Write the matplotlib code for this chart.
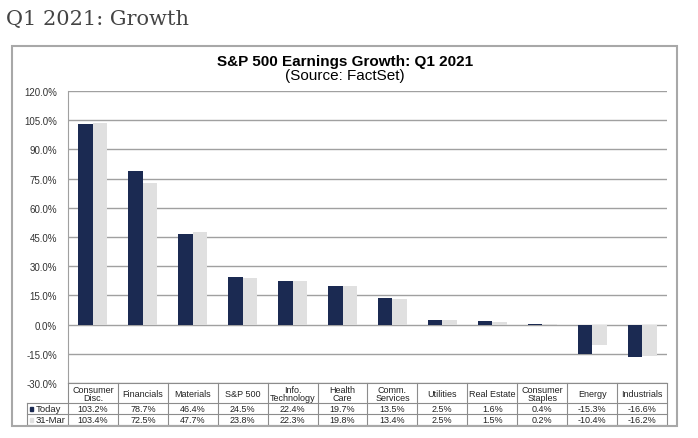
import matplotlib
matplotlib.use("Agg")
import matplotlib.pyplot as plt
from matplotlib.patches import Rectangle
import numpy as np

categories = ["Consumer\nDisc.", "Financials", "Materials", "S&P 500", "Info.\nTechnology",
              "Health\nCare", "Comm.\nServices", "Utilities", "Real Estate", "Consumer\nStaples",
              "Energy", "Industrials"]
today = [103.2, 78.7, 46.4, 24.5, 22.4, 19.7, 13.5, 2.5, 1.6, 0.4, -15.3, -16.6]
mar31 = [103.4, 72.5, 47.7, 23.8, 22.3, 19.8, 13.4, 2.5, 1.5, 0.2, -10.4, -16.2]
series_names = ["Today", "31-Mar"]
yticks = np.arange(-30, 121, 15)

NAVY = "#1b2a52"
LGRAY = "#e0e0e0"
W, H = 698, 439
fig = plt.figure(figsize=(W / 100, H / 100), dpi=100)
fig.patch.set_facecolor("white")
plt.rcParams["font.family"] = ["Liberation Sans", "DejaVu Sans"]

def fx(px):
    return px / W
def fy(py):
    return 1 - py / H

# page title
fig.text(fx(6), fy(20), "Q1 2021: Growth", family=["DejaVu Serif"],
         fontsize=15, color="#444444", va="center", ha="left")

# outer box
fig.patches.append(Rectangle((fx(12), fy(427)), fx(677) - fx(12), fy(47) - fy(427),
                             transform=fig.transFigure, fill=False, edgecolor="#a8a8a8", lw=1.5))

fig.text(fx(345), fy(62), "S&P 500 Earnings Growth: Q1 2021", ha="center", va="center",
         fontsize=11, fontweight="bold", color="black")
fig.text(fx(345), fy(76), "(Source: FactSet)", ha="center", va="center",
         fontsize=11, color="black")

L, R, T, B = 68, 667, 92, 384
ax = fig.add_axes([fx(L), fy(B), fx(R) - fx(L), fy(T) - fy(B)])
n = len(categories)
x = np.arange(n)
bw = 0.29
ax.bar(x - bw / 2, today, bw, color=NAVY, zorder=3)
ax.bar(x + bw / 2, mar31, bw, color=LGRAY, zorder=3)
ax.set_xlim(-0.5, n - 0.5)
ax.set_ylim(-30, 120)
ax.set_yticks(yticks)
ax.set_yticklabels([f"{v:.1f}%" for v in yticks], fontsize=7, color="#333333")
ax.tick_params(axis="y", length=0, pad=8)
ax.set_xticks([])
for v in yticks:
    ax.axhline(v, color="#a0a0a0", lw=1, zorder=1)
for s in ["top", "right", "bottom"]:
    ax.spines[s].set_visible(False)
ax.spines["left"].set_color("#a0a0a0")
ax.set_facecolor("white")

# data table
TL = 27
cw = (R - L) / n
tax = fig.add_axes([fx(TL), fy(426), fx(R) - fx(TL), fy(384) - fy(426)])
xl0 = -0.5 - (L - TL) / cw
tax.set_xlim(xl0, n - 0.5)
tax.set_ylim(42, 0)
tax.axis("off")
lc = "#8c8c8c"
tax.plot([-0.5, n - 0.5], [0, 0], color=lc, lw=0.8, clip_on=False)
for yy in [20, 31, 42]:
    tax.plot([xl0, n - 0.5], [yy, yy], color=lc, lw=0.8, clip_on=False)
for i in range(n + 1):
    tax.plot([i - 0.5, i - 0.5], [0, 42], color=lc, lw=0.8, clip_on=False)
tax.plot([xl0, xl0], [20, 42], color=lc, lw=0.8, clip_on=False)
for i, c in enumerate(categories):
    tax.text(i, 10.5, c, ha="center", va="center", fontsize=6.5, color="#222222", linespacing=0.9)
    tax.text(i, 25.7, f"{today[i]:.1f}%", ha="center", va="center", fontsize=6.5, color="#222222")
    tax.text(i, 36.7, f"{mar31[i]:.1f}%", ha="center", va="center", fontsize=6.5, color="#222222")
for row, (name, col) in enumerate(zip(series_names, [NAVY, LGRAY])):
    yc = 25.7 + 11 * row
    tax.add_patch(Rectangle((xl0 + 0.06, yc - 2), 0.07, 4, color=col, clip_on=False))
    tax.text(xl0 + 0.17, yc, name, ha="left", va="center", fontsize=6.8, color="#222222")

fig.savefig("out.png", dpi=100, facecolor="white")
